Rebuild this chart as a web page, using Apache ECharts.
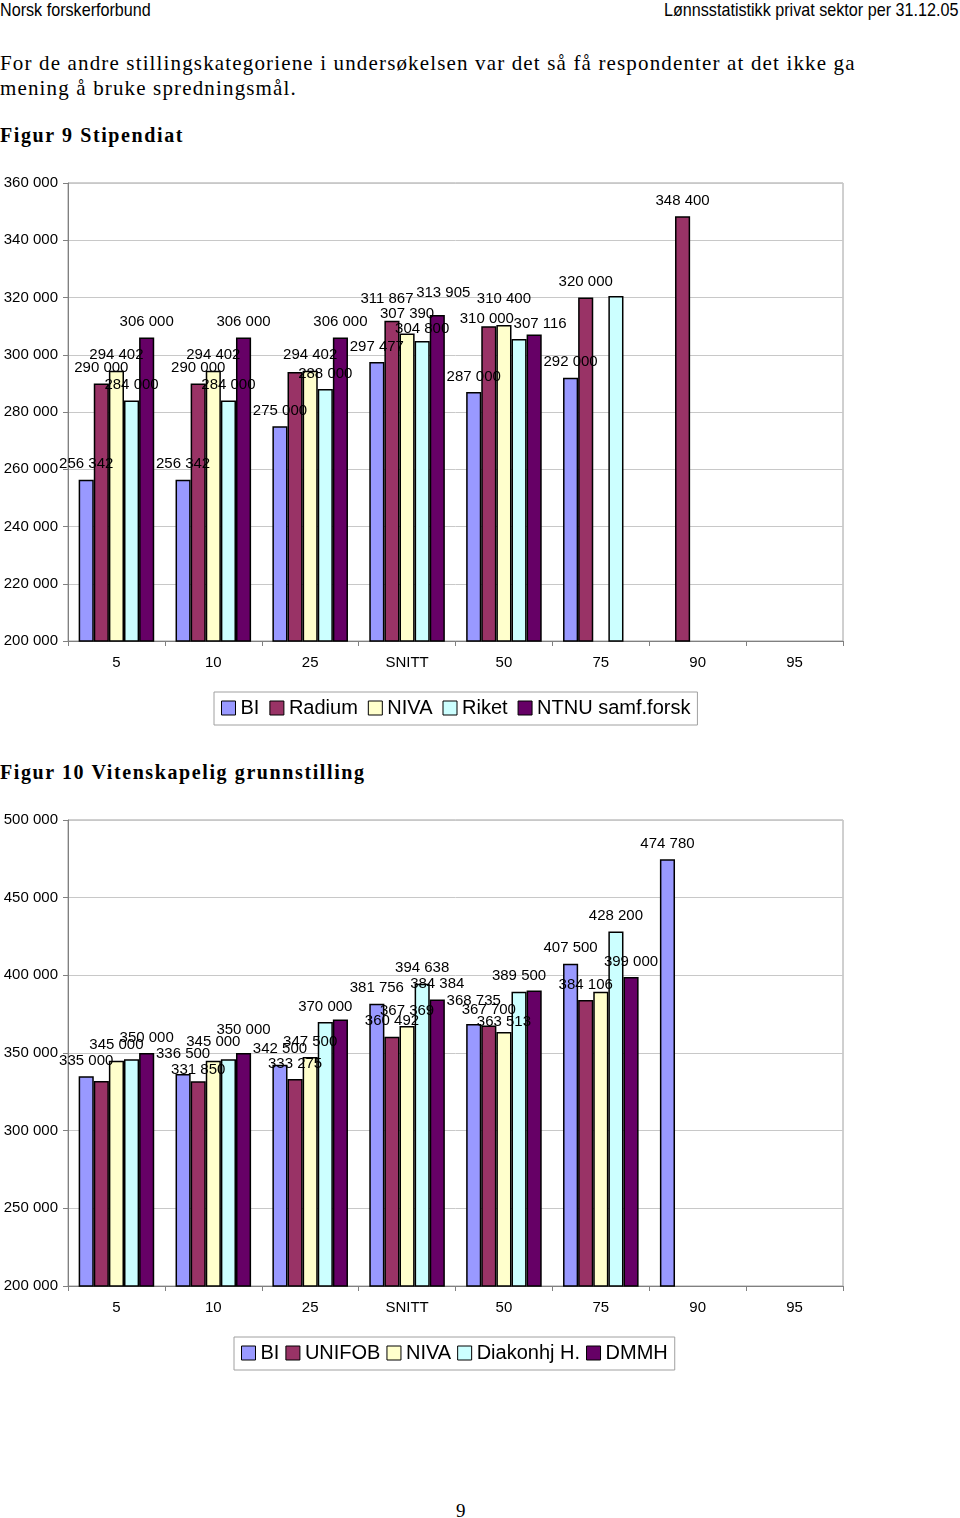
<!DOCTYPE html>
<html>
<head>
<meta charset="utf-8">
<script src="https://cdn.jsdelivr.net/npm/echarts@6/dist/echarts.min.js"></script>
<style>
  html, body { margin:0; padding:0; background:#fff; }
  body { width:960px; height:1518px; position:relative; overflow:hidden; }
  .hdr { position:absolute; top:-1px; font-family:"Liberation Sans",Arial,sans-serif; font-size:19px; color:#000; white-space:nowrap; }
  .para { position:absolute; left:0; font-family:"Liberation Serif","Times New Roman",serif; font-size:21px; letter-spacing:1.15px; line-height:25px; color:#000; white-space:nowrap; }
  .fig { position:absolute; left:0; font-family:"Liberation Serif","Times New Roman",serif; font-weight:bold; font-size:20px; letter-spacing:1.6px; color:#000; white-space:nowrap; }
  .chart { position:absolute; left:0; width:960px; }
</style>
</head>
<body>
<div class="hdr" style="left:0;transform:scaleX(0.85);transform-origin:left top;">Norsk forskerforbund</div>
<div class="hdr" style="right:2px;transform:scaleX(0.85);transform-origin:right top;">Lønnsstatistikk privat sektor per 31.12.05</div>
<div class="para" style="top:51px;">For de andre stillingskategoriene i undersøkelsen var det så få respondenter at det ikke ga<br>mening å bruke spredningsmål.</div>
<div class="fig" style="top:124px;">Figur 9 Stipendiat</div>
<div id="c1" class="chart" style="top:160px;height:580px;"></div>
<div class="fig" style="top:761px;">Figur 10 Vitenskapelig grunnstilling</div>
<div id="c2" class="chart" style="top:800px;height:590px;"></div>
<div class="para" style="top:1498px;left:456px;font-size:19px;letter-spacing:0;">9</div>
<script>
// ---------- data ----------
const categories = ['5', '10', '25', 'SNITT', '50', '75', '90', '95'];

// Figur 9 Stipendiat
const fig9Names = ['BI', 'Radium', 'NIVA', 'Riket', 'NTNU samf.forsk'];
const fig9BI     = [256342, 256342, 275000, 297477, 287000, 292000, null, null];
const fig9Radium = [290000, 290000, 294000, 311867, 310000, 320000, 348400, null];
const fig9NIVA   = [294402, 294402, 294402, 307390, 310400, null, null, null];
const fig9Riket  = [284000, 284000, 288000, 304800, 305500, 320500, null, null];
const fig9NTNU   = [306000, 306000, 306000, 313905, 307116, null, null, null];
// [series, category] pairs whose value label is not printed in the original
const fig9Unlabeled = [[1, 2], [3, 4], [3, 5]];

// Figur 10 Vitenskapelig grunnstilling
const fig10Names = ['BI', 'UNIFOB', 'NIVA', 'Diakonhj H.', 'DMMH'];
const fig10BI     = [335000, 336500, 342500, 381756, 368735, 407500, 474780, null];
const fig10UNIFOB = [332000, 331850, 333275, 360492, 367700, 384106, null, null];
const fig10NIVA   = [345000, 345000, 347500, 367369, 363513, 389500, null, null];
const fig10Diak   = [346000, 346000, 370000, 394638, 389500, 428200, null, null];
const fig10DMMH   = [350000, 350000, 371500, 384384, 390300, 399000, null, null];
const fig10Unlabeled = [[1, 0], [3, 0], [3, 1], [4, 2], [4, 4], [2, 5]];

const colors = ['#9999FF', '#993366', '#FFFFCC', '#CCFFFF', '#660066'];

// label nudges (style only): "series:category" -> [dx, dy] in px
const fig9Nudge = {
  '1:3': [-5, -6], '2:3': [0, -4], '3:3': [0, 3], '4:3': [6, -7],
  '1:4': [-2, 8], '2:4': [0, -11], '4:4': [6, 5]
};
const fig10Nudge = {
  '0:4': [0, -8], '2:4': [0, 5],
  '0:1': [0, -5], '1:1': [0, 4], '2:1': [0, -3], '4:1': [0, -8]
};

// ---------- helpers ----------
function fmt(v) {
  return String(Math.round(v)).replace(/\B(?=(\d{3})+(?!\d))/g, ' ');
}
const FONT = '"Liberation Sans", Arial, sans-serif';

function buildOption(names, seriesData, unlabeled, nudge, yMin, yMax, yInt, gridTop, gridHeight, legendTop, legendLeft, legendGap) {
  const hidden = new Set(unlabeled.map(p => p[0] + ':' + p[1]));
  return {
    animation: false,
    color: colors,
    textStyle: { fontFamily: FONT },
    grid: {
      left: 68, top: gridTop, width: 775, height: gridHeight,
      show: true, borderColor: '#a0a0a0', borderWidth: 1, backgroundColor: 'transparent'
    },
    legend: {
      data: names,
      left: legendLeft, top: legendTop,
      orient: 'horizontal',
      icon: 'rect',
      itemWidth: 14, itemHeight: 14, itemGap: legendGap,
      padding: [6, 7, 7, 7],
      borderColor: '#a0a0a0', borderWidth: 1,
      itemStyle: { borderColor: '#000', borderWidth: 1 },
      textStyle: { fontSize: 20, color: '#000', fontFamily: FONT },
      selectedMode: false
    },
    xAxis: {
      type: 'category',
      data: categories,
      axisLine: { lineStyle: { color: '#808080', width: 1 } },
      axisTick: { show: true, length: 5, lineStyle: { color: '#808080' } },
      axisLabel: { color: '#000', fontSize: 15, margin: 14, fontFamily: FONT }
    },
    yAxis: {
      type: 'value',
      min: yMin, max: yMax, interval: yInt,
      axisLine: { show: true, lineStyle: { color: '#808080', width: 1 } },
      axisTick: { show: true, length: 5, lineStyle: { color: '#808080' } },
      splitLine: { lineStyle: { color: '#c8c8c8', width: 1 } },
      axisLabel: { color: '#000', fontSize: 15, margin: 10, fontFamily: FONT, formatter: v => fmt(v) }
    },
    series: seriesData.map((d, si) => ({
      name: names[si],
      type: 'bar',
      data: d.map((v, ci) => {
        const key = si + ':' + ci;
        if (v == null) return v;
        const item = { value: v };
        if (hidden.has(key)) item.label = { show: false };
        else if (nudge[key]) item.label = { offset: nudge[key] };
        return item;
      }),
      barGap: '0%',
      barCategoryGap: '22%',
      itemStyle: { color: colors[si], borderColor: '#000', borderWidth: 1.5 },
      label: {
        show: true, position: 'top', distance: 8,
        color: '#000', fontSize: 15, fontFamily: FONT,
        formatter: p => (p.value == null) ? '' : fmt(p.value)
      }
    }))
  };
}

const c1 = echarts.init(document.getElementById('c1'), null, { renderer: 'canvas' });
c1.setOption(buildOption(
  fig9Names,
  [fig9BI, fig9Radium, fig9NIVA, fig9Riket, fig9NTNU],
  fig9Unlabeled, fig9Nudge,
  200000, 360000, 20000,
  23, 458, 532, 214, 10
));

const c2 = echarts.init(document.getElementById('c2'), null, { renderer: 'canvas' });
c2.setOption(buildOption(
  fig10Names,
  [fig10BI, fig10UNIFOB, fig10NIVA, fig10Diak, fig10DMMH],
  fig10Unlabeled, fig10Nudge,
  200000, 500000, 50000,
  20, 466, 537, 234, 6
));
</script>
</body>
</html>
